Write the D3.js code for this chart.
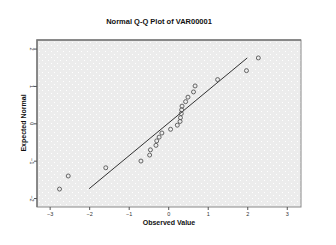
<!DOCTYPE html>
<html>
<head>
<meta charset="utf-8">
<script src="https://cdn.jsdelivr.net/npm/d3@7"></script>
<style>
  html, body { margin: 0; padding: 0; background: #fff; }
  svg { display: block; font-family: "Liberation Sans", Arial, sans-serif; }
</style>
</head>
<body>
<svg id="chart" width="336" height="245"></svg>
<script>
var observed = [-2.75, -2.53, -1.58, -0.69, -0.47, -0.45, -0.31, -0.29, -0.23, -0.16,
                0.06, 0.23, 0.30, 0.31, 0.33, 0.34, 0.35, 0.44, 0.50, 0.64, 0.68,
                1.25, 1.98, 2.28];
var expected = [-1.76, -1.41, -1.19, -1.01, -0.85, -0.71, -0.59, -0.47, -0.37, -0.26,
                -0.16, -0.05, 0.05, 0.15, 0.26, 0.36, 0.46, 0.58, 0.70, 0.84, 1.00,
                1.17, 1.41, 1.75];
var refLineX = [-2, 2];
var refLineY = [-1.75, 1.75];
var xTicks = [-3, -2, -1, 0, 1, 2, 3];
var yTicks = [-2, -1, 0, 1, 2];

(function() {
    var svg = d3.select("#chart");
    var plotLeft = 37, plotRight = 301, plotTop = 40, plotBottom = 207;

    var x = d3.scaleLinear().domain([-3.32, 3.36]).range([plotLeft, plotRight]);
    var y = d3.scaleLinear().domain([-2.24, 2.23]).range([plotBottom, plotTop]);

    // dotted background like the SPSS chart
    var pat = svg.append("defs").append("pattern")
        .attr("id", "dots")
        .attr("width", 6).attr("height", 6)
        .attr("patternUnits", "userSpaceOnUse");
    pat.append("rect").attr("width", 6).attr("height", 6).attr("fill", "#ececec");
    pat.append("rect").attr("x", 0).attr("y", 0).attr("width", 1).attr("height", 1).attr("fill", "#fff");
    pat.append("rect").attr("x", 3).attr("y", 3).attr("width", 1).attr("height", 1).attr("fill", "#fff");

    svg.append("rect")
        .attr("x", plotLeft).attr("y", plotTop)
        .attr("width", plotRight - plotLeft).attr("height", plotBottom - plotTop)
        .attr("fill", "url(#dots)")
        .attr("stroke", "#8a8a8a")
        .attr("stroke-width", 1);
    // darker top/left edges
    svg.append("path")
        .attr("d", "M" + plotLeft + "," + plotBottom + "V" + plotTop + "H" + plotRight)
        .attr("fill", "none")
        .attr("stroke", "#777")
        .attr("stroke-width", 1.5);

    // axes
    var xAxis = svg.append("g")
        .attr("transform", "translate(0," + plotBottom + ")")
        .call(d3.axisBottom(x).tickValues(xTicks).tickSize(3).tickPadding(2).tickFormat(d3.format("d")));
    var yAxis = svg.append("g")
        .attr("transform", "translate(" + plotLeft + ",0)")
        .call(d3.axisLeft(y).tickValues(yTicks).tickSize(3).tickPadding(2).tickFormat(d3.format("d")));
    [xAxis, yAxis].forEach(function(g) {
        g.select(".domain").remove();
        g.selectAll(".tick line").attr("stroke", "#555");
        g.selectAll(".tick text").attr("fill", "#333").style("font-size", "5.5px");
    });
    // y tick labels are turned sideways in SPSS
    yAxis.selectAll(".tick text")
        .attr("x", null).attr("dy", null)
        .attr("text-anchor", "middle")
        .attr("transform", "translate(-7,0) rotate(90)");

    // reference line
    svg.append("line")
        .attr("x1", x(refLineX[0])).attr("y1", y(refLineY[0]))
        .attr("x2", x(refLineX[1])).attr("y2", y(refLineY[1]))
        .attr("stroke", "#333")
        .attr("stroke-width", 1);

    // points
    svg.append("g")
        .selectAll("circle")
        .data(observed)
        .join("circle")
        .attr("cx", function(d) { return x(d); })
        .attr("cy", function(d, i) { return y(expected[i]); })
        .attr("r", 2)
        .attr("fill", "none")
        .attr("stroke", "#555")
        .attr("stroke-width", 0.9);

    // titles
    svg.append("text")
        .attr("x", 159).attr("y", 24)
        .attr("text-anchor", "middle")
        .style("font-size", "7.5px").style("font-weight", "bold")
        .attr("fill", "#111")
        .text("Normal Q-Q Plot of VAR00001");
    svg.append("text")
        .attr("x", 169).attr("y", 225)
        .attr("text-anchor", "middle")
        .style("font-size", "7px").style("font-weight", "bold")
        .attr("fill", "#111")
        .text("Observed Value");
    svg.append("text")
        .attr("transform", "translate(26,123) rotate(-90)")
        .attr("text-anchor", "middle")
        .style("font-size", "7px").style("font-weight", "bold")
        .attr("fill", "#111")
        .text("Expected Normal");
})();
</script>
</body>
</html>
